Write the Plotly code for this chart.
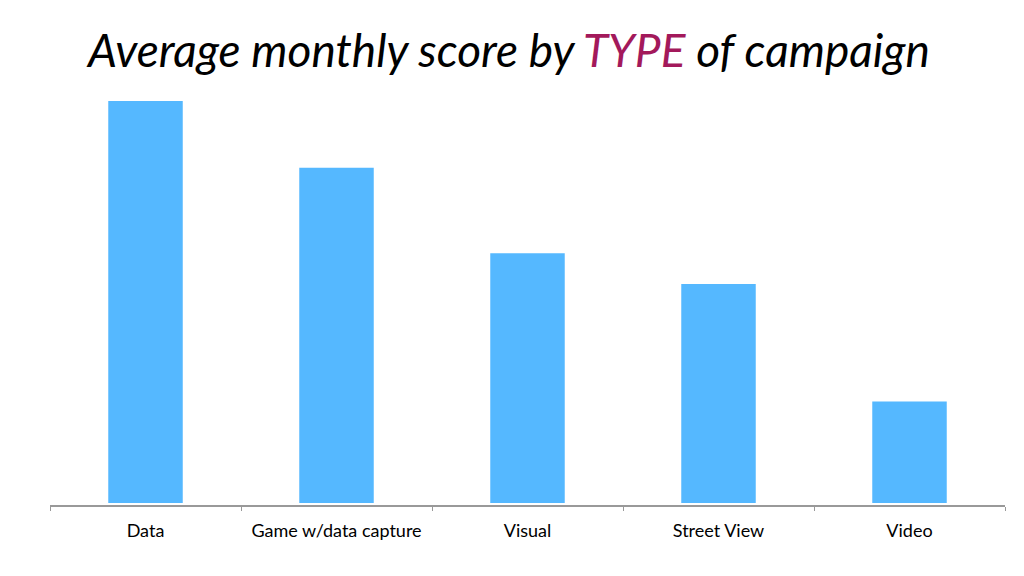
import plotly.graph_objects as go

categories = ["Data", "Game w/data capture", "Visual", "Street View", "Video"]
scores = [40.4, 33.7, 25.1, 22.0, 10.2]

fig = go.Figure()
fig.add_trace(go.Bar(x=categories, y=scores, marker=dict(color="#55b8ff", line=dict(width=0)), hoverinfo="x+y"))

fig.update_layout(
    width=1024, height=576,
    margin=dict(l=50, r=19, t=100, b=71),
    plot_bgcolor="white", paper_bgcolor="white",
    bargap=0.61,
    showlegend=False,
    font=dict(family="Lato, 'Open Sans', sans-serif", color="black"),
)
fig.update_xaxes(
    showline=True, linecolor="#999999", linewidth=1.5,
    ticks="outside", tickson="boundaries", ticklen=4, tickcolor="#999999",
    tickfont=dict(size=18, color="black", family="Lato"),
    ticklabelstandoff=9,
    showgrid=False,
)
fig.update_yaxes(visible=False, range=[-0.2, 40.5], showgrid=False)

fig.add_annotation(
    text="<i>Average monthly score by <span style='color:#a3195b'>TYPE</span> of campaign</i>",
    xref="paper", yref="paper", x=0.48, y=1.0, yshift=51, xanchor="center", yanchor="middle",
    showarrow=False, font=dict(size=46, color="black", family="Lato"),
)

fig.write_html("out.html")
